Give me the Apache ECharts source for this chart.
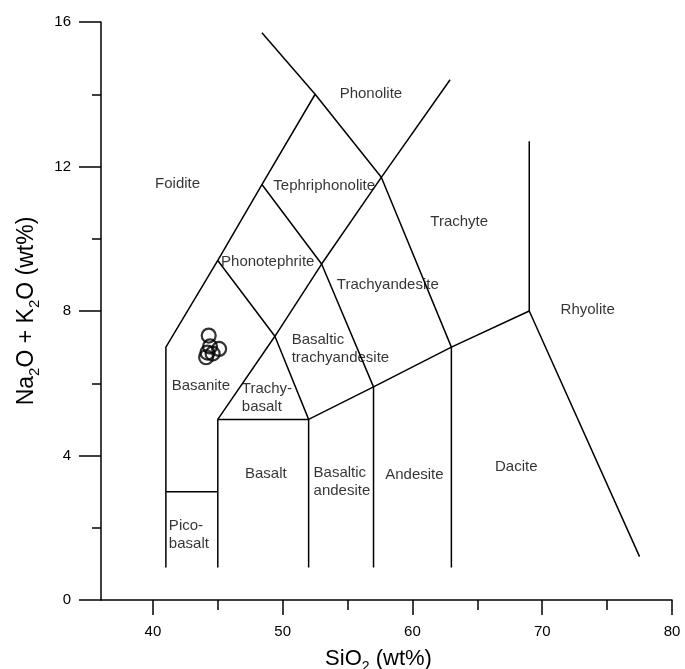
<!DOCTYPE html>
<html>
<head>
<meta charset="utf-8">
<script src="https://cdn.jsdelivr.net/npm/echarts@6/dist/echarts.min.js"></script>
<style>html,body{margin:0;padding:0;background:#fff}#c{width:685px;height:669px}</style>
</head>
<body>
<div id="c"></div>
<script>
// X axis (SiO2 wt%) major/minor tick values
const xMajorTicks = [40, 50, 60, 70, 80];
const xMinorTicks = [45, 55, 65, 75];
// Field boundary polylines [SiO2, Na2O+K2O]
const lineA = [[41,0.9],[41,7],[45,9.4],[48.4,11.5],[52.5,14],[57.6,11.7],[63,7],[63,0.9]];
const lineB = [[41,3],[45,3]];
const lineC = [[45,0.9],[45,5],[52,5],[52,0.9]];
const lineD = [[52,5],[57,5.9],[63,7],[69,8],[77.5,1.2]];
const lineE = [[57,0.9],[57,5.9]];
const lineF = [[69,8],[69,12.7]];
const lineG = [[52.5,14],[48.4,15.7]];
const lineH = [[45,5],[49.4,7.3],[53,9.3],[57.6,11.7],[62.9,14.4]];
const lineI = [[45,9.4],[49.4,7.3],[52,5]];
const lineJ = [[48.4,11.5],[53,9.3],[57,5.9]];
// Field names and their anchor values
const centeredNames = ['Phonolite','Tephriphonolite','Trachyte','Trachyandesite','Phonotephrite','Foidite','Basanite','Basalt','Andesite','Dacite','Rhyolite'];
const centeredX = [56.8, 53.2, 63.6, 58.1, 48.85, 41.9, 43.7, 48.7, 60.15, 68.0, 73.5];
const centeredY = [14.0, 11.47, 10.47, 8.73, 9.36, 11.52, 5.93, 3.49, 3.46, 3.68, 8.03];
const leftNames = ['Basaltic\ntrachyandesite','Trachy-\nbasalt','Basaltic\nandesite','Pico-\nbasalt'];
const leftX = [50.69, 46.85, 52.38, 41.23];
const leftY = [6.94, 5.6, 3.27, 1.8];
// Sample analyses
const sampleSiO2 = [44.3, 44.4, 45.1, 44.2, 44.1, 44.6];
const sampleAlk = [7.32, 7.02, 6.95, 6.85, 6.72, 6.82];

const FONT = "'Liberation Sans', Arial, sans-serif";
const lines = [lineA,lineB,lineC,lineD,lineE,lineF,lineG,lineH,lineI,lineJ];
const series = lines.map(l => ({
  type: 'line', data: l, symbol: 'none', silent: true,
  lineStyle: {color: '#000', width: 1.5}, animation: false
}));
series.push({
  type: 'scatter', symbol: 'circle', symbolSize: 1, silent: true, animation: false,
  itemStyle: {color: 'rgba(0,0,0,0)'},
  data: centeredNames.map((n,i) => ({value: [centeredX[i], centeredY[i]], name: n})),
  label: {show: true, position: 'inside', formatter: '{b}', color: '#000', fontSize: 15, fontFamily: FONT, align: 'center', verticalAlign: 'middle'}
});
series.push({
  type: 'scatter', symbol: 'circle', symbolSize: 1, silent: true, animation: false,
  itemStyle: {color: 'rgba(0,0,0,0)'},
  data: leftNames.map((n,i) => ({value: [leftX[i], leftY[i]], name: n})),
  label: {show: true, position: 'inside', formatter: '{b}', color: '#000', fontSize: 15, lineHeight: 18, fontFamily: FONT, align: 'left', verticalAlign: 'middle'}
});
series.push({
  type: 'scatter', symbol: 'circle', symbolSize: 14, animation: false,
  data: sampleSiO2.map((x,i) => [x, sampleAlk[i]]),
  itemStyle: {color: 'rgba(0,0,0,0)', borderColor: '#000', borderWidth: 2.2}
});

const chart = echarts.init(document.getElementById('c'));
chart.setOption({
  animation: false,
  backgroundColor: '#fff',
  grid: {left: 101, right: 13, top: 22, bottom: 69, containLabel: false, outerBoundsMode: 'none'},
  xAxis: [{
    type: 'value', min: 36, max: 80, position: 'bottom',
    splitLine: {show: false},
    axisLine: {show: true, onZero: false, lineStyle: {color: '#000', width: 1.5}},
    axisTick: {show: true, customValues: xMajorTicks, length: 15, lineStyle: {color: '#000', width: 1.5}},
    axisLabel: {show: true, customValues: xMajorTicks, color: '#000', fontSize: 15, fontFamily: FONT, margin: 24},
    name: '{n|SiO}{s|2}{n| (wt%)}', nameLocation: 'middle', nameGap: 45,
    nameTextStyle: {padding: [0, 16, 0, 0], rich: {
      n: {fontSize: 22, fontFamily: FONT, color: '#000', lineHeight: 24},
      s: {fontSize: 14, fontFamily: FONT, color: '#000', lineHeight: 14, padding: [16,0,0,0]}
    }}
  }, {
    type: 'value', min: 36, max: 80, position: 'bottom',
    splitLine: {show: false},
    axisLine: {show: false},
    axisTick: {show: true, customValues: xMinorTicks, length: 10, lineStyle: {color: '#000', width: 1.5}},
    axisLabel: {show: false}
  }],
  yAxis: {
    type: 'value', min: 0, max: 16, interval: 4,
    splitLine: {show: false},
    axisLine: {show: true, onZero: false, lineStyle: {color: '#000', width: 1.5}},
    axisTick: {show: true, length: 22, lineStyle: {color: '#000', width: 1.5}},
    minorTick: {show: true, splitNumber: 2, length: 9, lineStyle: {color: '#000', width: 1.5}},
    axisLabel: {color: '#000', fontSize: 15, fontFamily: FONT, margin: 30},
    name: '{n|Na}{s|2}{n|O + K}{s|2}{n|O (wt%)}', nameLocation: 'middle', nameGap: 62, nameRotate: 90,
    nameTextStyle: {rich: {
      n: {fontSize: 23, fontFamily: FONT, color: '#000', lineHeight: 25},
      s: {fontSize: 15, fontFamily: FONT, color: '#000', lineHeight: 15, padding: [16,0,0,0]}
    }}
  },
  series: series
});
</script>
</body>
</html>
